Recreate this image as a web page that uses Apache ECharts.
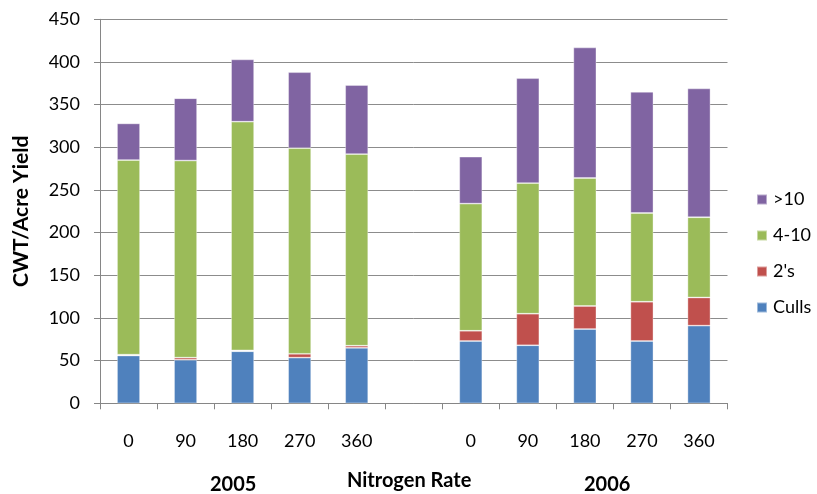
<!DOCTYPE html>
<html>
<head>
<meta charset="utf-8">
<script src="https://cdn.jsdelivr.net/npm/echarts@6/dist/echarts.min.js"></script>
<style>html,body{margin:0;padding:0;background:#fff;}#c{width:817px;height:494px;}</style>
</head>
<body>
<div id="c"></div>
<script>
const categories = ['0', '90', '180', '270', '360', '', '0', '90', '180', '270', '360'];
const culls = [56, 51, 61, 53.5, 65, '-', 73, 68, 87, 73, 91];
const twos = [1, 2.5, 1, 4.5, 2.5, '-', 12, 37, 27, 46, 33];
const fourTen = [228, 231, 268, 241, 224.5, '-', 149, 153, 150, 104, 94];
const over10 = [43, 73, 73, 89, 81, '-', 55, 123, 153, 142, 151];
const yTicks = { min: 0, max: 450, interval: 50 };
const yearLabels = ['2005', '2006'];
const xTitle = 'Nitrogen Rate';
const yTitle = 'CWT/Acre Yield';

const FONT = 'Lato, "Open Sans", sans-serif';
const chart = echarts.init(document.getElementById('c'), null, { renderer: 'canvas' });

function barSeries(name, data, color) {
  return {
    name: name, type: 'bar', stack: 'total', data: data, barWidth: 23,
    itemStyle: { color: color, borderColor: 'rgba(255,255,255,0.45)', borderWidth: 0.8 },
    emphasis: { disabled: true }
  };
}

chart.setOption({
  animation: false,
  backgroundColor: '#ffffff',
  textStyle: { fontFamily: FONT },
  grid: { left: 100, right: 89.5, top: 19.3, bottom: 90.7, containLabel: false },
  legend: {
    orient: 'vertical', left: 751, top: 184,
    data: ['>10', '4-10', "2's", 'Culls'],
    itemWidth: 10, itemHeight: 10, itemGap: 15, icon: 'rect',
    textStyle: { fontFamily: FONT, fontSize: 18, color: '#000', padding: [0, 0, 0, 1], lineHeight: 21 }
  },
  xAxis: {
    type: 'category', data: categories,
    axisLine: { lineStyle: { color: '#868686', width: 1 } },
    axisTick: { show: true, interval: 0, length: 6, lineStyle: { color: '#868686' } },
    axisLabel: { interval: 0, margin: 29, fontFamily: FONT, fontSize: 18, color: '#000' }
  },
  yAxis: {
    type: 'value', min: yTicks.min, max: yTicks.max, interval: yTicks.interval,
    name: yTitle, nameLocation: 'middle', nameGap: 68, nameRotate: 90,
    nameTextStyle: { fontFamily: FONT, fontSize: 21, fontWeight: 'bold', color: '#000' },
    axisLine: { show: true, lineStyle: { color: '#868686', width: 1 } },
    axisTick: { show: true, length: 6, inside: false, lineStyle: { color: '#868686' } },
    axisLabel: { margin: 20, fontFamily: FONT, fontSize: 18, color: '#000' },
    splitLine: { show: true, lineStyle: { color: '#8c8c8c', width: 1 } }
  },
  graphic: [
    { type: 'text', left: 210, top: 475, style: { text: yearLabels[0], font: 'bold 20px ' + FONT, fill: '#000' } },
    { type: 'text', left: 347, top: 471, style: { text: xTitle, font: 'bold 20px ' + FONT, fill: '#000' } },
    { type: 'text', left: 584, top: 475, style: { text: yearLabels[1], font: 'bold 20px ' + FONT, fill: '#000' } }
  ],
  series: [
    barSeries('Culls', culls, '#4F81BD'),
    barSeries("2's", twos, '#C0504D'),
    barSeries('4-10', fourTen, '#9BBB59'),
    barSeries('>10', over10, '#8064A2')
  ]
});
</script>
</body>
</html>
